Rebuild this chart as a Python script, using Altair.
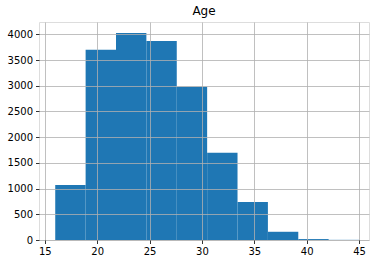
import altair as alt
import pandas as pd

bin_start = [16.0, 18.9, 21.8, 24.7, 27.6, 30.5, 33.4, 36.3, 39.2, 42.1]
bin_end = [18.9, 21.8, 24.7, 27.6, 30.5, 33.4, 36.3, 39.2, 42.1, 45.0]
counts = [1070, 3700, 4025, 3872, 2980, 1697, 740, 160, 18, 3]

x_ticks = [15, 20, 25, 30, 35, 40, 45]
y_ticks = [0, 500, 1000, 1500, 2000, 2500, 3000, 3500, 4000]

df = pd.DataFrame({"start": bin_start, "end": bin_end, "count": counts, "zero": [0] * len(counts)})

FONT = "DejaVu Sans"

x_axis = alt.Axis(values=x_ticks, grid=True, gridColor="#b0b0b0", gridWidth=0.8,
                  domain=False, tickColor="black", tickSize=3.5, tickWidth=0.8,
                  labelFont=FONT, labelFontSize=10, labelColor="black", labelPadding=3,
                  title=None, zindex=1, labelFlush=False, format="d")
y_axis = alt.Axis(values=y_ticks, grid=True, gridColor="#b0b0b0", gridWidth=0.8,
                  domain=False, tickColor="black", tickSize=3.5, tickWidth=0.8,
                  labelFont=FONT, labelFontSize=10, labelColor="black", labelPadding=3,
                  title=None, zindex=1, format="d")

chart = alt.Chart(df).mark_rect(color="#1f77b4").encode(
    x=alt.X("start:Q", scale=alt.Scale(domain=[14.45, 45.95], nice=False, zero=False), axis=x_axis),
    x2="end:Q",
    y=alt.Y("count:Q", scale=alt.Scale(domain=[0, 4241], nice=False), axis=y_axis),
    y2="zero:Q",
).properties(
    width=330, height=218,
    title=alt.TitleParams("Age", font=FONT, fontSize=12, fontWeight="normal", color="black",
                          anchor="middle", offset=4),
    autosize=alt.AutoSizeParams(type="none"),
    padding={"left": 39, "top": 22, "right": 12, "bottom": 24},
).configure_view(stroke="black", strokeWidth=0.8).configure(background="white")

chart.save("out.html", embed_options={"renderer": "svg", "actions": False})
